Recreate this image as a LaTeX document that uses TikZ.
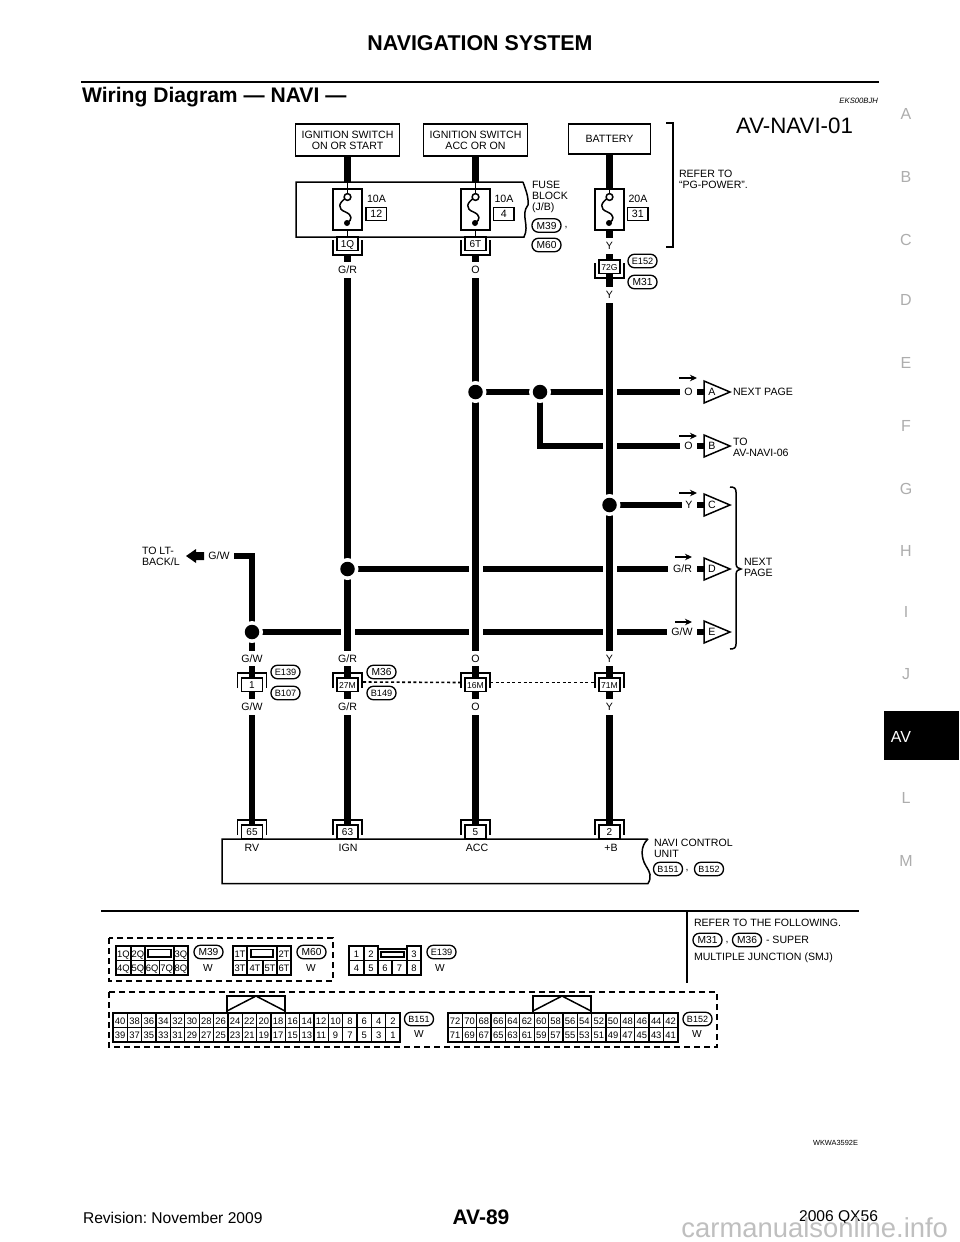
\documentclass[tikz,border=0pt]{standalone}
\usepackage{fontspec}
\setmainfont{Liberation Sans}
\usetikzlibrary{arrows.meta}
\newcommand{\fsz}[1]{\fontsize{#1}{11}\selectfont\frenchspacing}
\tikzset{
  base/.style={inner sep=0pt,outer sep=0pt,font=\fsz{10.6}},
  fixedh/.style={text height=7.5pt,text depth=0pt},
  txt/.style={base,anchor=west,align=left},
  ctxt/.style={base,align=center},
  boxn/.style={base,draw,line width=1.5pt,fill=white,align=center},
  wire/.style={line width=6.6pt,line cap=butt},
  halo/.style={line width=14pt,white,line cap=butt},
  thinw/.style={line width=1.5pt},
  gaplabel/.style={base,fixedh,fill=white,minimum height=15.5pt,minimum width=14pt},
  oval/.style={base,fixedh,draw,line width=1.3pt,fill=white,rounded corners=6.5pt,minimum width=29pt,minimum height=13.5pt,font=\fsz{10.2}},
  pinbox/.style={base,fixedh,draw,line width=1.5pt,fill=white,minimum width=21pt,minimum height=13.5pt,font=\fsz{10}},
  cell/.style={base,fixedh,draw,line width=1.3pt,anchor=north west,minimum height=14.5pt,font=\fsz{9.4}},
  tag/.style={base,font=\fsz{10.2}},
  dashbox/.style={line width=1.5pt,dash pattern=on 6pt off 4pt},
  dotline/.style={line width=1.6pt,dash pattern=on 3pt off 2.6pt},
  jdot/.style={circle,fill=black,minimum size=14.5pt,inner sep=0pt,outer sep=0pt},
  jhalo/.style={circle,fill=white,minimum size=22pt,inner sep=0pt},
  side/.style={base,text=black!32,font=\fsz{16}},
  smallarrow/.style={line width=1.4pt,-{Stealth[length=7pt,width=6.5pt]}},
  bracketl/.style={line width=1.5pt},
}
% upper-bracket connector
\newcommand{\capconn}[4]{% name x ytop text
  \draw[bracketl] ({#2-14.5},{#3+15}) -- ({#2-14.5},{#3}) -- ({#2+14.5},{#3}) -- ({#2+14.5},{#3+15});
  \node[pinbox] (#1) at (#2,{#3+11.5}) {#4};
}
% lower-bracket connector
\newcommand{\cupconn}[4]{% name x ybottom text; box above
  \draw[bracketl] ({#2-14.5},{#3-15}) -- ({#2-14.5},{#3}) -- ({#2+14.5},{#3}) -- ({#2+14.5},{#3-15});
  \node[pinbox] (#1) at (#2,{#3-11.5}) {#4};
}
% fuse
\newcommand{\fusesym}[2]{% name x
  \node[boxn,minimum width=29pt,minimum height=41pt] (#1) at (#2,209.5) {};
  \draw[thinw] ({#2},197) .. controls ({#2-10},203) and ({#2-10},209) .. ({#2-2},212) .. controls ({#2+5},215) and ({#2+5},220) .. ({#2-0.5},223);
  \fill ({#2-0.5},223) circle (3pt);
  \draw[thinw,fill=white] (#2,197) circle (3.4pt);
}
% triangle flag
\newcommand{\flag}[3]{% name y letter
  \draw[line width=1.5pt,fill=white] (704,{#2-11}) -- (730,#2) -- (704,{#2+11}) -- cycle;
  \node[base] (#1) at (712,#2) {#3};
}
% connector pin block
\newcommand{\pinrow}[5]{% name x y count top-left number
  \pgfmathtruncatemacro{\lastcol}{#4-1}
  \foreach \c in {0,...,\lastcol}{
    \pgfmathtruncatemacro{\up}{#5-2*\c}
    \pgfmathtruncatemacro{\dn}{#5-1-2*\c}
    \node[cell,minimum width=14.36pt] (#1u\up) at ({#2+\c*14.36},{#3}) {\up};
    \node[cell,minimum width=14.36pt] (#1d\dn) at ({#2+\c*14.36},{#3+14.5}) {\dn};
  }
  \draw[line width=1.6pt] (#2,#3) rectangle ({#2+#4*14.36},{#3+29});
}
\newcommand{\hump}[2]{% xleft ytop
  \draw[line width=1.5pt] (#1,1013) -- (#1,#2) -- ({#1+58},#2) -- ({#1+58},1013);
  \draw[line width=1.5pt] (#1,1011) -- ({#1+29},#2) -- ({#1+58},1011);
}
\begin{document}
\begin{tikzpicture}[x=1pt,y=-1pt]
\useasboundingbox (0,0) rectangle (960,1242);
\fill[white] (0,0) rectangle (960,1242);
\def\xa{347.5}\def\xb{475.5}\def\xc{609.5}\def\xd{252}

% page furniture
\node[base,font=\bfseries\fsz{21.4}] (pagetitle) at (480,43) {NAVIGATION SYSTEM};
\draw[line width=1.7pt] (81,82) -- (879,82);
\node[txt,font=\bfseries\fsz{21.1}] (sectitle) at (82,97.5) {Wiring Diagram — NAVI —};
\node[base,anchor=east,font=\itshape\fsz{7.7}] (ekscode) at (878,100.5) {EKS00BJH};
\node[base,font=\fsz{22.3}] (sheet) at (794.5,126) {AV-NAVI-01};
\foreach \l/\y in {A/114,B/177,C/240,D/300,E/363,F/426,G/489,H/551,I/612,J/674,L/798,M/861}
  \node[side] (side\l) at (906,\y) {\l};
\node[base,fill=black,text=white,minimum width=75pt,minimum height=49.5pt] (avtab) at (921.5,735.5) {};
\node[base,text=white,font=\fsz{16}] (avtext) at (901,737) {AV};

% sources
\node[boxn,minimum width=104pt,minimum height=32pt] (sw1) at (\xa,140) {IGNITION SWITCH\\ON OR START};
\node[boxn,minimum width=104pt,minimum height=32pt] (sw2) at (\xb,140) {IGNITION SWITCH\\ACC OR ON};
\node[boxn,minimum width=82pt,minimum height=30pt] (batt) at (\xc,139) {BATTERY};

% fuse block
\draw[line width=1.5pt] (523,182) -- (296,182) -- (296,237) -- (524,237) .. controls (530,225) and (520,215) .. (528,205) .. controls (529,197) and (525,188) .. (523,182);
\node[txt] (fblock) at (532,197) {FUSE\\BLOCK\\(J/B)};
\node[oval] (m39a) at (546.5,225.5) {M39};
\node[base] (m39c) at (566,228) {,};
\node[oval] (m60a) at (546.5,245) {M60};
\draw[line width=1.6pt] (666,123) -- (673,123) -- (673,247) -- (666,247);
\node[txt] (referpg) at (679,179.5) {REFER TO\\“PG-POWER”.};

% feed into the fuses
\coordinate (bt1) at (\xa,182);
\coordinate (bt2) at (\xb,182);
\draw[wire] (sw1.south) -- (bt1);
\draw[wire] (sw2.south) -- (bt2);
\draw[thinw] (bt1) -- (\xa,190);
\draw[thinw] (bt2) -- (\xb,190);
\fusesym{f1}{\xa}
\fusesym{f2}{\xb}
\fusesym{f3}{\xc}
\draw[thinw] (f1.north) -- (\xa,194);
\draw[thinw] (f2.north) -- (\xb,194);
\draw[thinw] (f3.north) -- (\xc,194);
\draw[wire] (batt.south) -- (f3.north);
\foreach \n/\x/\a/\t in {fa1/367/10A/12,fa2/494.5/10A/4,fa3/628.5/20A/31}{
  \node[txt] (\n) at (\x,199) {\a};
  \node[boxn,fixedh,anchor=west,line width=1.3pt,minimum width=20.5pt,minimum height=12.5pt] (\n b) at (\x-1,214) {\t};
}

% horizontal wires
\coordinate (ja) at (\xb,392);
\coordinate (jb) at (540,392);
\coordinate (jc) at (\xc,505);
\coordinate (jd) at (\xa,569);
\coordinate (je) at (\xd,632);
\coordinate (bend) at (540,446);
\coordinate (endA) at (704,392);
\coordinate (endB) at (704,446);
\coordinate (endC) at (704,505);
\coordinate (endD) at (704,569);
\coordinate (endE) at (704,632);
\coordinate (ltcorner) at (\xd,556);
\coordinate (ltend) at (204,556);
\draw[wire] (ja) -- (endA);
\draw[wire,line join=miter] (jb) -- (bend) -- (endB);
\draw[wire] (jc) -- (endC);
\draw[wire] (jd) -- (endD);
\draw[wire] (je) -- (endE);

% connectors 1Q etc
\coordinate (fb1) at (\xa,230);
\coordinate (fb2) at (\xb,230);
\coordinate (fb3) at (\xc,230);
\coordinate (v1) at (\xa,255);
\coordinate (v2) at (\xb,255);
\coordinate (v3) at (\xc,278);
\coordinate (w0) at (\xd,825);
\coordinate (w1) at (\xa,825);
\coordinate (w2) at (\xb,825);
\coordinate (w3) at (\xc,825);

% vertical wires over horizontal ones
\draw[halo] (v1) -- (w1);
\draw[halo] (v2) -- (w2);
\draw[halo] (v3) -- (w3);
\draw[wire] (v1) -- (w1);
\draw[wire] (v2) -- (w2);
\draw[wire] (v3) -- (w3);
\draw[wire] (fb3) -- (v3);
\draw[wire,line join=miter] (ltend) -| (w0);
\draw[thinw] (f1.south) -- (\xa,238);
\draw[thinw] (f2.south) -- (\xb,238);

% junctions
\foreach \j in {ja,jb,jc,jd,je}{
  \node[jhalo] at (\j) {};
}
\foreach \j in {ja,jb,jc,jd,je}{
  \node[jdot] (dot\j) at (\j) {};
}

\cupconn{c1Q}{\xa}{255}{1Q}
\cupconn{c6T}{\xb}{255}{6T}
\cupconn{c72G}{\xc}{278}{\fsz{8.6}72G}
\node[oval] (e152) at (642.5,261) {\fsz{9.2}E152};
\node[oval] (m31a) at (642.5,282) {M31};

% in-line connectors
\capconn{c1}{\xd}{673}{1}
\capconn{c27M}{\xa}{673}{\fsz{8.6}27M}
\capconn{c16M}{\xb}{673}{\fsz{8.6}16M}
\capconn{c71M}{\xc}{673}{\fsz{8.6}71M}
\draw[dotline] (c27M.east) ++(5,-2.5) coordinate (d1) -- (\xb-14.5,682.5);
\draw[dotline] (\xb+14.5,682.5) -- (\xc-14.5,682.5);
\node[oval] (e139a) at (285.5,672) {\fsz{9.2}E139};
\node[oval] (b107) at (285.5,693) {\fsz{9.2}B107};
\node[oval] (m36a) at (381.5,672) {M36};
\node[oval] (b149) at (381.5,693) {\fsz{9.2}B149};

% wire colour labels
\foreach \x/\y/\t in {\xa/270/{G/R},\xb/270/O,\xc/246/Y,\xc/295/Y,\xd/658.5/{G/W},\xa/658.5/{G/R},\xb/658.5/O,\xc/658.5/Y,\xd/707/{G/W},\xa/707/{G/R},\xb/707/O,\xc/707/Y}
  \node[gaplabel] at (\x,\y) {\t};

% outgoing labels and flags
\node[gaplabel,minimum width=17pt] (lblA) at (688.5,392) {O};
\node[gaplabel,minimum width=17pt] (lblB) at (688.5,446) {O};
\node[gaplabel,minimum width=15pt] (lblC) at (689,505) {Y};
\node[gaplabel,minimum width=29pt] (lblD) at (682.5,569) {G/R};
\node[gaplabel,minimum width=30pt] (lblE) at (682,632) {G/W};
\flag{flagA}{392}{A}
\flag{flagB}{446}{B}
\flag{flagC}{505}{C}
\flag{flagD}{569}{D}
\flag{flagE}{632}{E}
\draw[smallarrow] (679,378) -- (697,378);
\draw[smallarrow] (679,436) -- (697,436);
\draw[smallarrow] (679,493) -- (697,493);
\draw[smallarrow] (675,557) -- (692,557);
\draw[smallarrow] (675,622) -- (692,622);
\node[txt] (nxA) at (733,391.5) {NEXT PAGE};
\node[txt] (nxB) at (733,447.5) {TO\\AV-NAVI-06};
\draw[line width=1.5pt] (730,487) .. controls (734,487) and (736,488) .. (736,492) -- (736,563) .. controls (736,567) and (738,569) .. (741,569) .. controls (738,569) and (736,571) .. (736,575) -- (736,644) .. controls (736,648) and (734,649) .. (730,649);
\node[txt] (nxP) at (744,567.5) {NEXT\\PAGE};

% LT back lamp feed
\node[gaplabel,minimum width=30pt] (ltlbl) at (219,556) {G/W};
\path[fill=black] (204,552) -- (196,552) -- (196,549) -- (186,556) -- (196,563) -- (196,560) -- (204,560) -- cycle;
\node[txt] (ltbk) at (142,556.5) {TO LT-\\BACK/L};

% control unit
\draw[line width=1.5pt,fill=white] (648,839) -- (222,839) -- (222,883.5) -- (648,883.5) .. controls (652,877) and (650,872) .. (646,866) .. controls (641,858) and (640,846) .. (648,839);
\capconn{p65}{\xd}{820}{65}
\capconn{p63}{\xa}{820}{63}
\capconn{p5}{\xb}{820}{5}
\capconn{p2}{\xc}{820}{2}
\node[base] (rv) at (252,848) {RV};
\node[base] (ign) at (348,848) {IGN};
\node[base] (acc) at (477,848) {ACC};
\node[base] (pb) at (611,848) {+B};
\node[txt] (unit) at (654,848.5) {NAVI CONTROL\\UNIT};
\node[oval] (b151u) at (668,869) {\fsz{9}B151};
\node[base] (cm) at (687,871) {,};
\node[oval] (b152u) at (709,869) {\fsz{9}B152};

% lower separator and note
\draw[line width=1.3pt] (101,911) -- (859,911);
\draw[line width=1.3pt] (687,911) -- (687,983);
\node[txt] (ref1) at (694,923) {REFER TO THE FOLLOWING.};
\node[oval] (m31n) at (707.5,940) {M31};
\node[base] (cmn) at (727,942.5) {,};
\node[oval] (m36n) at (747,940) {M36};
\node[txt] (ref2) at (766,940) {- SUPER};
\node[txt] (ref3) at (694,958) {MULTIPLE JUNCTION (SMJ)};

% connector key, first box
\draw[dashbox] (109,938) rectangle (333,981);
% M39
\foreach \n/\x/\w/\t in {a/116/15/1Q,b/131/14/2Q,c/174/14/3Q}
  \node[cell,minimum width=\w pt] (m39\n) at (\x,946) {\t};
\foreach \n/\x/\w/\t in {d/116/15/4Q,e/131/14/5Q,f/145/14.3/6Q,g/159.3/14.7/7Q,h/174/14/8Q}
  \node[cell,minimum width=\w pt] (m39\n) at (\x,960.5) {\t};
\draw[line width=1.5pt] (116,946) rectangle (188,975);
\draw[line width=1.5pt] (145,946) -- (174,946);
\draw[line width=1.5pt] (148,949.5) rectangle (171,957);
\node[oval] (m39k) at (208.5,952) {M39};
\node[tag] (m39w) at (208,968) {W};
% M60
\foreach \n/\x/\w/\t in {a/233/14/1T,c/277/14/2T}
  \node[cell,minimum width=\w pt] (m60\n) at (\x,946) {\t};
\foreach \n/\x/\w/\t in {d/233/14/3T,e/247/16/4T,f/263/14/5T,g/277/14/6T}
  \node[cell,minimum width=\w pt] (m60\n) at (\x,960.5) {\t};
\draw[line width=1.5pt] (233,946) rectangle (291,975);
\draw[line width=1.5pt] (251,949.5) rectangle (273,957);
\node[oval] (m60k) at (311.5,952) {M60};
\node[tag] (m60w) at (311,968) {W};
% E139
\foreach \n/\x/\w/\t in {a/349/15/1,b/364/14/2,c/407/14/3}
  \node[cell,minimum width=\w pt] (e139\n) at (\x,946) {\t};
\foreach \n/\x/\w/\t in {d/349/15/4,e/364/14/5,f/378/14/6,g/392/15/7,h/407/14/8}
  \node[cell,minimum width=\w pt] (e139\n) at (\x,960.5) {\t};
\draw[line width=1.5pt] (349,946) -- (378,946) -- (378,949) -- (407,949) -- (407,946) -- (421,946) -- (421,975) -- (349,975) -- cycle;
\draw[line width=1.5pt] (381,952) rectangle (404,957);
\node[oval] (e139k) at (441.5,952) {\fsz{9.2}E139};
\node[tag] (e139w) at (440,968) {W};

% connector key, second box
\draw[dashbox] (109,992) rectangle (717,1047);
\pinrow{bfa}{113}{1013}{20}{40}
\hump{227}{996}
\node[oval] (b151k) at (419,1019) {\fsz{9}B151};
\node[tag] (b151w) at (419,1034) {W};
\pinrow{bfb}{448}{1013}{16}{72}
\hump{533}{996}
\node[oval] (b152k) at (697.5,1019) {\fsz{9}B152};
\node[tag] (b152w) at (697,1034) {W};

% footer
\node[base,anchor=east,font=\fsz{7.4}] (wkcode) at (858,1143) {WKWA3592E};
\node[txt,font=\fsz{15.6}] (rev) at (83,1218) {Revision: November 2009};
\node[base,font=\bfseries\fsz{21}] (pgno) at (481,1217) {AV-89};
\node[base,anchor=east,font=\fsz{15.6}] (model) at (878,1218) {2006 QX56};
\node[base,anchor=east,text=black!25,font=\fsz{27.4}] (wm) at (948,1228) {carmanualsonline.info};
\end{tikzpicture}
\end{document}
